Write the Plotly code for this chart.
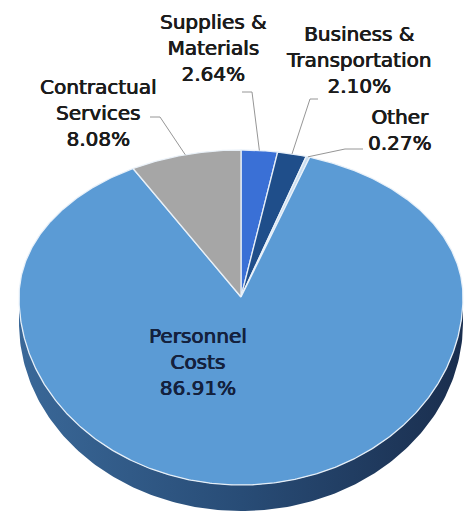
import numpy as np
import plotly.graph_objects as go

# Spending shares, listed clockwise starting at 12 o'clock
categories = ["Supplies &<br>Materials", "Business &<br>Transportation", "Other",
              "Personnel<br>Costs", "Contractual<br>Services"]
shares = [2.64, 2.10, 0.27, 86.91, 8.08]
colors = ["#3A70D6", "#1F4E8A", "#C9DDF0", "#5B9BD5", "#A6A6A6"]

# Tilted-disc geometry (pixel space)
CX, CY = 241.0, 297.0        # apex of the wedges
RX = 222.0                   # horizontal radius
RY_BACK, RY_FRONT = 147.0, 188.0   # foreshortened back / front radii
DEPTH = 26.0                 # thickness of the disc edge


def rim(theta_deg, drop=0.0):
    t = np.radians(np.asarray(theta_deg, dtype=float))
    ry = np.where(np.cos(t) >= 0, RY_BACK, RY_FRONT)
    return CX + RX * np.sin(t), CY - ry * np.cos(t) + drop


fig = go.Figure()

# Front edge of the disc (visible side wall)
front = np.linspace(90, 270, 181)
x_low, y_low = rim(front, DEPTH)
x_up, y_up = rim(front[::-1])
fig.add_trace(go.Scatter(
    x=np.concatenate([x_low, x_up]), y=np.concatenate([y_low, y_up]),
    fill="toself", mode="lines", line=dict(width=0),
    fillgradient=dict(type="horizontal",
                      colorscale=[[0, "rgb(58,104,152)"], [0.5, "rgb(40,76,118)"],
                                  [1, "rgb(26,46,78)"]]),
    hoverinfo="skip", showlegend=False))

# Top face wedges
total = sum(shares)
start = 0.0
mids = []
for name, val, col in zip(categories, shares, colors):
    span = 360.0 * val / total
    th = np.linspace(start, start + span, max(4, int(span * 2)))
    xs, ys = rim(th)
    fig.add_trace(go.Scatter(
        x=np.concatenate([[CX], xs, [CX]]), y=np.concatenate([[CY], ys, [CY]]),
        fill="toself", fillcolor=col, mode="lines",
        line=dict(color="rgba(235,242,250,0.95)", width=1.3),
        name=name.replace("<br>", " "), hoverinfo="name", showlegend=False))
    mids.append(start + span / 2)
    start += span

# Medium-weight text: regular face thickened with a faint same-colour shadow
def text_font(color):
    return dict(family="DejaVu Sans", size=20, color=color,
                shadow=f"0.5px 0 0 {color}, -0.3px 0 0 {color}")


# Callout labels with leader lines to the rim
callouts = [
    # (index, label centre, leader start, elbow)
    (0, (213, 48), (242, 92), (252, 92)),
    (1, (358, 60), (318, 99), (310, 99)),
    (2, (400, 130), (363, 149), (345, 149)),
    (4, (98, 113), (150, 117), (160, 117)),
]
for idx, (lx, ly), p0, p1 in callouts:
    ex, ey = rim(mids[idx])
    fig.add_trace(go.Scatter(
        x=[p0[0], p1[0], float(ex)], y=[p0[1], p1[1], float(ey)],
        mode="lines", line=dict(color="rgb(150,150,150)", width=1),
        hoverinfo="skip", showlegend=False))
    fig.add_annotation(x=lx, y=ly, xref="x", yref="y", showarrow=False,
                       text=f"{categories[idx]}<br>{shares[idx]:.2f}%",
                       font=text_font("#1c1c1c"), align="center")

# Label inside the largest wedge
fig.add_annotation(x=198, y=362, xref="x", yref="y", showarrow=False,
                   text=f"{categories[3]}<br>{shares[3]:.2f}%",
                   font=text_font("#14213d"), align="center")

fig.update_xaxes(range=[0, 473], visible=False, fixedrange=True)
fig.update_yaxes(range=[514, 0], visible=False, fixedrange=True)
fig.update_layout(width=473, height=514, autosize=False,
                  margin=dict(l=0, r=0, t=0, b=0),
                  paper_bgcolor="white", plot_bgcolor="white")

fig.write_html("out.html", config={"displayModeBar": False})
